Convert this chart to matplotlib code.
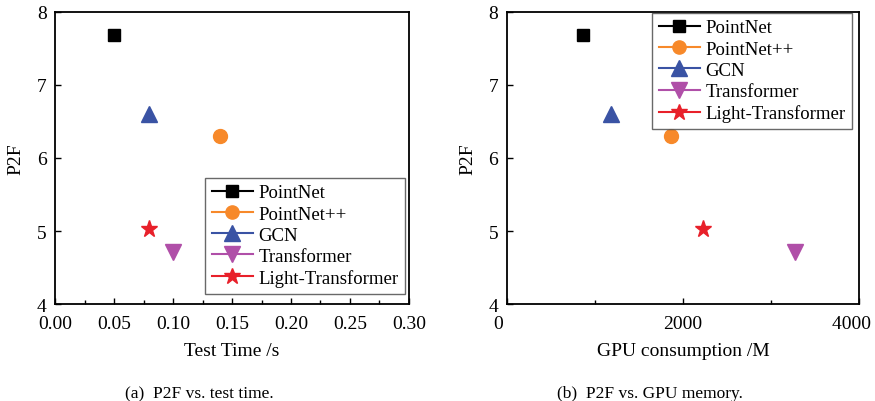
import matplotlib.pyplot as plt
from matplotlib.ticker import MultipleLocator

plt.rcParams['font.family'] = ['Liberation Serif', 'DejaVu Serif']

models = ["PointNet", "PointNet++", "GCN", "Transformer", "Light-Transformer"]
test_time = [0.05, 0.14, 0.08, 0.10, 0.08]
gpu_mem = [868, 1864, 1189, 3273, 2231]
p2f = [7.69, 6.30, 6.60, 4.72, 5.03]

colors = ["#000000", "#f7892a", "#3a53a4", "#b04fa8", "#e8202a"]
markers = ["s", "o", "^", "v", "*"]
sizes = [9, 10, 11.5, 11.5, 12.5]

fig = plt.figure(figsize=(8.75, 4.02), dpi=100)
ax1 = fig.add_axes([0.0629, 0.241, 0.4045, 0.727])
ax2 = fig.add_axes([0.579, 0.241, 0.403, 0.727])


def draw(ax, xs):
    for i, name in enumerate(models):
        ax.plot([xs[i]], [p2f[i]], linestyle="-", lw=1.5, marker=markers[i],
                ms=sizes[i], color=colors[i], label=name)
    ax.set_ylim(4, 8)
    ax.yaxis.set_major_locator(MultipleLocator(1))
    ax.set_ylabel("P2F", fontsize=14, labelpad=9)
    ax.tick_params(direction="in", labelsize=14, length=4, width=1, pad=6)
    ax.tick_params(axis="x", pad=8)
    ax.tick_params(which="minor", direction="in", length=3, width=1)
    for sp in ax.spines.values():
        sp.set_linewidth(1.3)


def legend(ax, **kw):
    leg = ax.legend(fontsize=13.5, fancybox=False, edgecolor="#444444",
                    handlelength=2.2, borderpad=0.35, labelspacing=0.22,
                    handletextpad=0.3, markerscale=0.95, borderaxespad=0, **kw)
    leg.get_frame().set_linewidth(1.0)


def gpu_fmt(v, pos):
    # end labels sit a little to the left, as in the source figure
    s = f"{v:.0f}"
    if v in (0, 4000):
        s += "\u00a0\u00a0\u00a0"
    return s


draw(ax1, test_time)
ax1.set_xlim(0, 0.30)
ax1.xaxis.set_major_locator(MultipleLocator(0.05))
ax1.xaxis.set_minor_locator(MultipleLocator(0.025))
ax1.xaxis.set_major_formatter(lambda v, p: f"{v:.2f}")
ax1.set_xlabel("Test Time /s", fontsize=14, labelpad=7)
legend(ax1, loc="lower right", bbox_to_anchor=(0.99, 0.036))

draw(ax2, gpu_mem)
ax2.set_xlim(0, 4000)
ax2.xaxis.set_major_locator(MultipleLocator(2000))
ax2.xaxis.set_minor_locator(MultipleLocator(1000))
ax2.xaxis.set_major_formatter(gpu_fmt)
ax2.set_xlabel("GPU consumption /M", fontsize=14, labelpad=7)
legend(ax2, loc="upper right", bbox_to_anchor=(0.98, 0.997))

fig.text(0.228, 0.01, "(a)  P2F vs. test time.", ha="center", fontsize=12.5)
fig.text(0.743, 0.01, "(b)  P2F vs. GPU memory.", ha="center", fontsize=12.5)

fig.savefig("out.png", dpi=100)
